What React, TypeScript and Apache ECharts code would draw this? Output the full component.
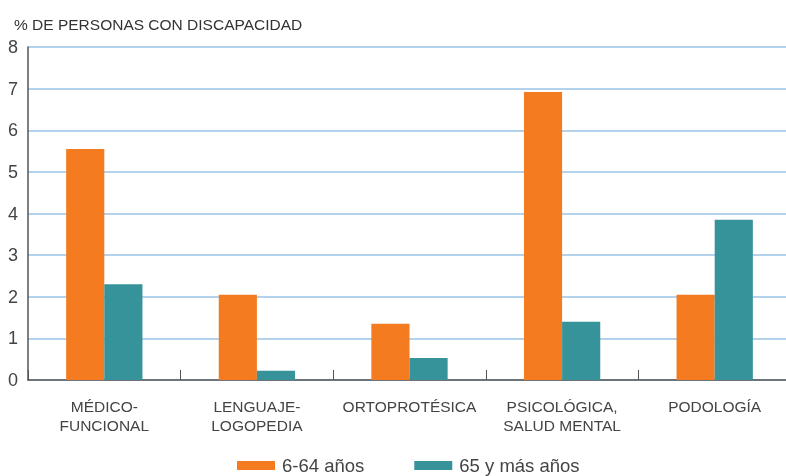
import React, { useEffect, useRef } from "react";
import * as echarts from "echarts";

const categories = ["MÉDICO-\nFUNCIONAL", "LENGUAJE-\nLOGOPEDIA", "ORTOPROTÉSICA", "PSICOLÓGICA,\nSALUD MENTAL", "PODOLOGÍA"];
const serieA = [5.55, 2.05, 1.35, 6.92, 2.05];
const serieB = [2.3, 0.22, 0.53, 1.4, 3.85];
const seriesNames = ["6-64 años", "65 y más años"];
const yTicks = [0, 1, 2, 3, 4, 5, 6, 7, 8];

export default function App() {
  const ref = useRef<HTMLDivElement>(null);
  useEffect(() => {
    const chart = echarts.init(ref.current!, null, { renderer: "svg" });
    const font = "'Liberation Sans', Arial, sans-serif";
    chart.setOption({
      animation: false,
      textStyle: { fontFamily: font },
      title: {
        text: "% DE PERSONAS CON DISCAPACIDAD",
        left: 9,
        top: 11,
        textStyle: { fontSize: 15.5, fontWeight: "normal", color: "#333", fontFamily: font },
      },
      legend: {
        top: 451,
        left: 232,
        itemWidth: 38,
        itemHeight: 9,
        itemGap: 50,
        icon: "rect",
        data: seriesNames,
        textStyle: { fontSize: 18.5, color: "#444", fontFamily: font, padding: [0, 0, 0, 2] },
      },
      grid: { left: 28, right: 9, top: 47, bottom: 96, containLabel: false },
      xAxis: {
        type: "category",
        data: categories,
        axisLine: { lineStyle: { color: "#555", width: 1.5 } },
        axisTick: { show: true, inside: true, length: 10, lineStyle: { color: "#555" } },
        axisLabel: { fontSize: 15.5, color: "#444", margin: 17, lineHeight: 19, fontFamily: font, interval: 0 },
      },
      yAxis: {
        type: "value",
        min: yTicks[0],
        max: yTicks[yTicks.length - 1],
        interval: 1,
        axisLine: { show: true, lineStyle: { color: "#555", width: 1.5 } },
        axisTick: { show: false },
        axisLabel: { fontSize: 18, color: "#444", margin: 10, fontFamily: font },
        splitLine: { lineStyle: { color: "#9DC3E6", width: 1.5 } },
      },
      series: [
        {
          name: seriesNames[0],
          type: "bar",
          data: serieA,
          itemStyle: { color: "#F47B20" },
          barGap: "0%",
          barCategoryGap: "50%",
        },
        {
          name: seriesNames[1],
          type: "bar",
          data: serieB,
          itemStyle: { color: "#37939A" },
          barGap: "0%",
          barCategoryGap: "50%",
        },
      ],
    });
    return () => chart.dispose();
  }, []);
  return <div ref={ref} style={{ position: "fixed", left: 0, top: 0, width: 800, height: 476 }} />;
}
